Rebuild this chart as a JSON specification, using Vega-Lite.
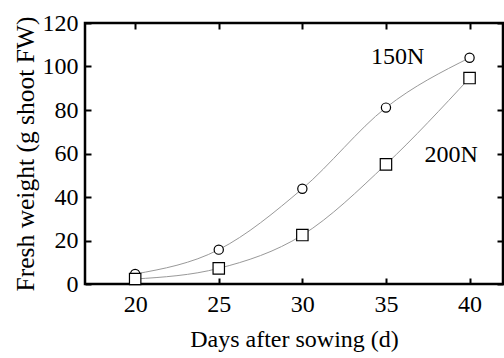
{
  "$schema": "https://vega.github.io/schema/vega-lite/v6.json",
  "width": 418,
  "height": 261,
  "autosize": "none",
  "padding": {"left": 85, "top": 23, "right": 1, "bottom": 74},
  "config": {
    "view": {"stroke": "black", "strokeWidth": 2.5},
    "font": "Liberation Serif",
    "axis": {
      "domain": false,
      "grid": false,
      "tickColor": "black",
      "tickWidth": 2,
      "tickSize": -6,
      "labelFont": "Liberation Serif",
      "labelFontSize": 24,
      "labelColor": "black",
      "labelFlush": false,
      "labelOverlap": false,
      "titleFont": "Liberation Serif",
      "titleFontWeight": "normal",
      "titleColor": "black"
    }
  },
  "data": {
    "values": [
      {"day": 20, "fw": 4.6, "series": "150N"},
      {"day": 25, "fw": 15.8, "series": "150N"},
      {"day": 30, "fw": 43.8, "series": "150N"},
      {"day": 35, "fw": 81.1, "series": "150N"},
      {"day": 40, "fw": 104, "series": "150N"},
      {"day": 20, "fw": 2.3, "series": "200N"},
      {"day": 25, "fw": 7.2, "series": "200N"},
      {"day": 30, "fw": 22.5, "series": "200N"},
      {"day": 35, "fw": 55, "series": "200N"},
      {"day": 40, "fw": 94.7, "series": "200N"}
    ]
  },
  "layer": [
    {
      "mark": {"type": "line", "interpolate": "monotone", "color": "#999999", "strokeWidth": 1},
      "encoding": {
        "x": {"field": "day", "type": "quantitative", "scale": {"domain": [17, 42], "nice": false},
              "axis": {"values": [20, 25, 30, 35, 40], "title": "Days after sowing (d)", "labelPadding": 14, "titlePadding": 11, "titleFontSize": 24}},
        "y": {"field": "fw", "type": "quantitative", "scale": {"domain": [0, 120], "nice": false},
              "axis": {"values": [0, 20, 40, 60, 80, 100, 120], "title": "Fresh weight (g shoot FW)", "labelPadding": 13, "titlePadding": 4, "titleFontSize": 25.5}},
        "detail": {"field": "series"}
      }
    },
    {
      "mark": {"type": "point", "filled": true, "fill": "white", "stroke": "black", "strokeWidth": 1.2, "opacity": 1},
      "encoding": {
        "x": {"field": "day", "type": "quantitative",
              "axis": {"orient": "top", "values": [20, 25, 30, 35, 40], "labels": false, "title": null}},
        "y": {"field": "fw", "type": "quantitative",
              "axis": {"orient": "right", "values": [0, 20, 40, 60, 80, 100, 120], "labels": false, "title": null}},
        "shape": {"field": "series", "type": "nominal", "scale": {"domain": ["150N", "200N"], "range": ["circle", "square"]}, "legend": null},
        "size": {"field": "series", "type": "nominal", "scale": {"domain": ["150N", "200N"], "range": [85, 130]}, "legend": null}
      }
    },
    {
      "data": {
        "values": [
          {"day": 35.7, "fw": 104.4, "label": "150N"},
          {"day": 38.9, "fw": 59.3, "label": "200N"}
        ]
      },
      "mark": {"type": "text", "font": "Liberation Serif", "fontSize": 24, "color": "black", "align": "center", "baseline": "middle"},
      "encoding": {
        "x": {"field": "day", "type": "quantitative", "axis": null},
        "y": {"field": "fw", "type": "quantitative", "axis": null},
        "text": {"field": "label"}
      }
    }
  ],
  "resolve": {"axis": {"x": "independent", "y": "independent"}}
}
